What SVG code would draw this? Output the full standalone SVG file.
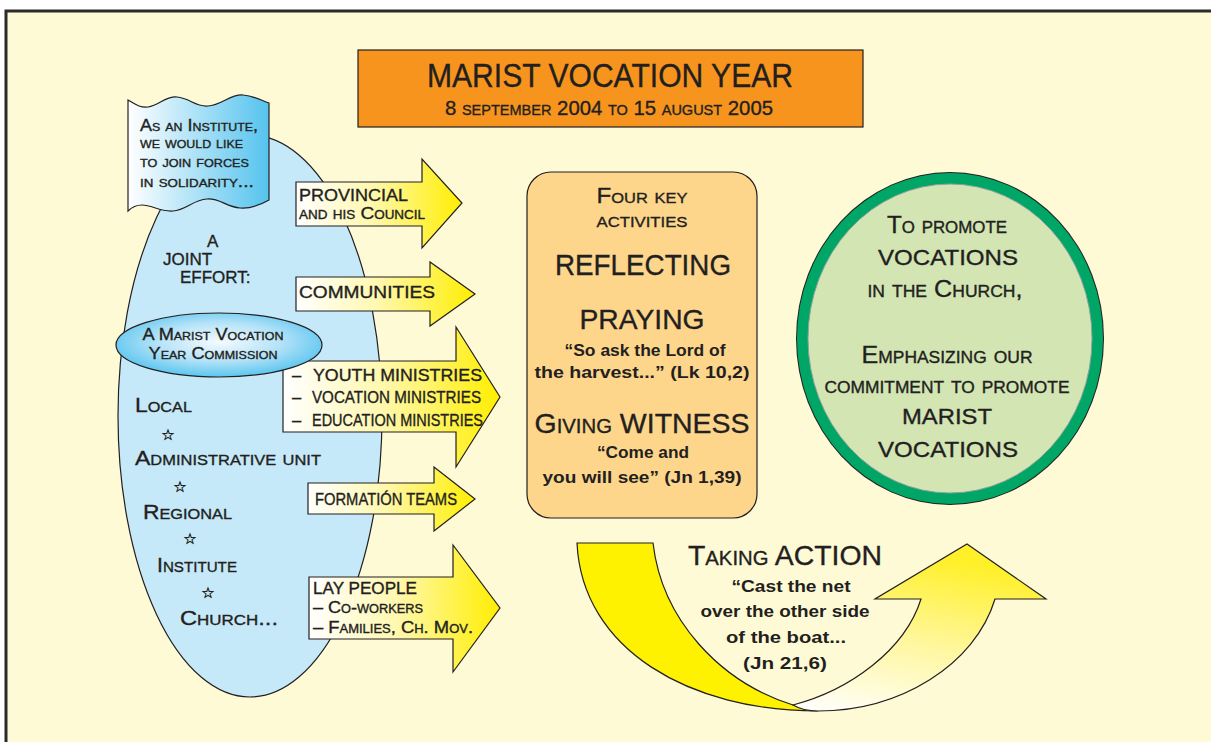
<svg xmlns="http://www.w3.org/2000/svg" width="1211" height="742" viewBox="0 0 1211 742">
<defs>
<linearGradient id="gArrow" x1="0" y1="0" x2="1" y2="0">
<stop offset="0" stop-color="#FFFFFF"/>
<stop offset="0.45" stop-color="#FFF8B0"/>
<stop offset="1" stop-color="#FFEE00"/>
</linearGradient>
<linearGradient id="gFlag" x1="0" y1="0" x2="1" y2="0">
<stop offset="0" stop-color="#FFFFFF"/>
<stop offset="1" stop-color="#55C3EE"/>
</linearGradient>
<radialGradient id="gComm" cx="0.5" cy="0.45" r="0.55">
<stop offset="0" stop-color="#F4FBFF"/>
<stop offset="0.55" stop-color="#B4E2F8"/>
<stop offset="1" stop-color="#5BC6EF"/>
</radialGradient>
<linearGradient id="gCurve" x1="0" y1="1" x2="0.3" y2="0" >
<stop offset="0" stop-color="#FFFFFF"/>
<stop offset="0.5" stop-color="#FFF7A0"/>
<stop offset="1" stop-color="#FFF02A"/>
</linearGradient>
<style>
.t{font-family:"Liberation Sans",Arial,sans-serif;fill:#231F20;stroke:#231F20;stroke-width:0.35;}
.sc{font-variant:small-caps;}
.b{font-weight:bold;stroke:none;}
.ln{stroke:#231F20;stroke-width:1.2;}
.arrow{fill:url(#gArrow);stroke:#231F20;stroke-width:1.2;}
</style>
</defs>
<rect x="0" y="0" width="1211" height="742" fill="#FFFFFF"/>
<rect x="6" y="11" width="1225" height="745" fill="#FFFAD6" stroke="#2B2B2B" stroke-width="3"/>

<g id="title">
<rect x="358" y="50" width="505" height="77" fill="#F7941D" stroke="#231F20" stroke-width="1.2"/>
<text class="t" x="610" y="87" font-size="34" text-anchor="middle" textLength="366" lengthAdjust="spacingAndGlyphs">MARIST VOCATION YEAR</text>
<text class="t sc" x="609" y="115" font-size="21" text-anchor="middle" textLength="328" lengthAdjust="spacingAndGlyphs">8 september 2004 to 15 august 2005</text>
</g>

<g id="joint-effort">
<ellipse cx="250" cy="416" rx="132" ry="281" fill="#C6E9F9" class="ln"/>
<text class="t" font-size="17"><tspan x="207" y="247">A</tspan><tspan x="163" y="265">JOINT</tspan><tspan x="180" y="283">EFFORT:</tspan></text>
</g>

<g id="flag">
<path d="M128,100 C135,104 140,108 148,107 C160,105 165,96 177,97 C190,98 195,107 208,106 C222,105 230,94 243,95 C255,96 262,101 269,103 L269,200 C262,204 252,209 240,208 C226,207 220,198 207,199 C193,200 186,210 173,211 C160,212 152,205 142,205 C136,205 131,208 128,211 Z" fill="url(#gFlag)" class="ln"/>
<text class="t sc" font-size="16"><tspan x="140" y="131" textLength="118" lengthAdjust="spacingAndGlyphs">As an Institute,</tspan><tspan x="140" y="148" textLength="103" lengthAdjust="spacingAndGlyphs">we would like</tspan><tspan x="140" y="167" textLength="109" lengthAdjust="spacingAndGlyphs">to join forces</tspan><tspan x="140" y="187" textLength="114" lengthAdjust="spacingAndGlyphs">in solidarity...</tspan></text>
</g>

<g id="arrow-youth">
<path class="arrow" d="M283,361 L456,361 L456,327 L500,397 L456,467 L456,432 L283,432 Z"/>
<text class="t" font-size="16.5"><tspan x="292" y="381">–</tspan><tspan x="313" y="381" textLength="169" lengthAdjust="spacingAndGlyphs">YOUTH MINISTRIES</tspan><tspan x="292" y="403">–</tspan><tspan x="312" y="403" textLength="169" lengthAdjust="spacingAndGlyphs">VOCATION MINISTRIES</tspan><tspan x="292" y="426">–</tspan><tspan x="312" y="426" textLength="171" lengthAdjust="spacingAndGlyphs">EDUCATION MINISTRIES</tspan></text>
</g>

<g id="commission">
<ellipse cx="219" cy="345" rx="103" ry="32" fill="url(#gComm)" class="ln"/>
<text class="t sc" font-size="16" text-anchor="middle"><tspan x="213" y="340" textLength="141" lengthAdjust="spacingAndGlyphs">A Marist Vocation</tspan><tspan x="213" y="359" textLength="129" lengthAdjust="spacingAndGlyphs">Year Commission</tspan></text>
</g>

<g id="levels">
<text class="t sc" font-size="21"><tspan x="135" y="412" textLength="57" lengthAdjust="spacingAndGlyphs">Local</tspan><tspan x="135" y="465" textLength="186" lengthAdjust="spacingAndGlyphs">Administrative unit</tspan><tspan x="143" y="519" textLength="89" lengthAdjust="spacingAndGlyphs">Regional</tspan><tspan x="157" y="572" textLength="80" lengthAdjust="spacingAndGlyphs">Institute</tspan><tspan x="180" y="625" textLength="98" lengthAdjust="spacingAndGlyphs">Church...</tspan></text>
<text font-family="DejaVu Sans,sans-serif" font-size="15" fill="#231F20" stroke="#231F20" stroke-width="0.4" text-anchor="middle"><tspan x="168" y="440">☆</tspan><tspan x="180" y="492">☆</tspan><tspan x="190" y="544">☆</tspan><tspan x="208" y="598">☆</tspan></text>
</g>

<g id="arrow-provincial">
<path class="arrow" d="M296,182 L422,182 L422,159 L462,203 L422,248 L422,226 L296,226 Z"/>
<text class="t"><tspan x="299" y="201" font-size="17" textLength="109" lengthAdjust="spacingAndGlyphs">PROVINCIAL</tspan><tspan class="sc" x="299" y="219" font-size="17" textLength="126" lengthAdjust="spacingAndGlyphs">and his Council</tspan></text>
</g>

<g id="arrow-communities">
<path class="arrow" d="M296,277 L430,277 L430,262 L475,294 L430,326 L430,311 L296,311 Z"/>
<text class="t" x="299" y="298" font-size="17" textLength="136" lengthAdjust="spacingAndGlyphs">COMMUNITIES</text>
</g>

<g id="arrow-formation">
<path class="arrow" d="M308,483 L434,483 L434,467 L475,499 L434,531 L434,514 L308,514 Z"/>
<text class="t" x="315" y="505" font-size="16.5" textLength="142" lengthAdjust="spacingAndGlyphs">FORMATIÓN TEAMS</text>
</g>

<g id="arrow-lay">
<path class="arrow" d="M309,577 L453,577 L453,545 L500,608 L453,672 L453,639 L309,639 Z"/>
<text class="t" font-size="17"><tspan x="313" y="594" textLength="104" lengthAdjust="spacingAndGlyphs">LAY PEOPLE</tspan><tspan class="sc" x="313" y="613" textLength="110" lengthAdjust="spacingAndGlyphs">– Co-workers</tspan><tspan class="sc" x="313" y="633" textLength="160" lengthAdjust="spacingAndGlyphs">– Families, Ch. Mov.</tspan></text>
</g>

<g id="activities">
<rect x="527" y="172" width="230" height="346" rx="24" fill="#FDD68C" class="ln"/>
<text class="t sc" font-size="22" text-anchor="middle"><tspan x="642" y="203" textLength="91" lengthAdjust="spacingAndGlyphs">Four key</tspan><tspan x="642" y="227" textLength="91" lengthAdjust="spacingAndGlyphs">activities</tspan></text>
<text class="t" font-size="29" text-anchor="middle" x="643" y="275" textLength="176" lengthAdjust="spacingAndGlyphs">REFLECTING</text>
<text class="t" font-size="28" text-anchor="middle" x="642" y="329" textLength="125" lengthAdjust="spacingAndGlyphs">PRAYING</text>
<text class="t b" font-size="17" text-anchor="middle"><tspan x="645" y="356" textLength="161" lengthAdjust="spacingAndGlyphs">“So ask the Lord of</tspan><tspan x="642" y="378" textLength="215" lengthAdjust="spacingAndGlyphs">the harvest...” (Lk 10,2)</tspan></text>
<text class="t sc" font-size="28" text-anchor="middle" x="642" y="433" textLength="215" lengthAdjust="spacingAndGlyphs">Giving WITNESS</text>
<text class="t b" font-size="17" text-anchor="middle"><tspan x="643" y="458" textLength="92" lengthAdjust="spacingAndGlyphs">“Come and</tspan><tspan x="642" y="483" textLength="199" lengthAdjust="spacingAndGlyphs">you will see” (Jn 1,39)</tspan></text>
</g>

<g id="goal">
<ellipse cx="950" cy="338.5" rx="154" ry="166.5" fill="#231F20"/>
<ellipse cx="950" cy="338.5" rx="153" ry="165.5" fill="#00A665"/>
<ellipse cx="950" cy="338.5" rx="142" ry="154.5" fill="#D2E5B3" stroke="#8FA0A0" stroke-width="1"/>
<text class="t sc" font-size="23" text-anchor="middle"><tspan x="947" y="233" textLength="120" lengthAdjust="spacingAndGlyphs">To promote</tspan><tspan x="945" y="297" textLength="155" lengthAdjust="spacingAndGlyphs">in the Church,</tspan><tspan x="947" y="363" textLength="171" lengthAdjust="spacingAndGlyphs">Emphasizing our</tspan><tspan x="947" y="393" textLength="245" lengthAdjust="spacingAndGlyphs">commitment to promote</tspan></text>
<text class="t" font-size="22" text-anchor="middle"><tspan x="948" y="265" textLength="140" lengthAdjust="spacingAndGlyphs">VOCATIONS</tspan><tspan x="947" y="424" textLength="90" lengthAdjust="spacingAndGlyphs">MARIST</tspan><tspan x="948" y="457" textLength="140" lengthAdjust="spacingAndGlyphs">VOCATIONS</tspan></text>
</g>

<g id="connectors">
<path d="M577,543 L653,543 C662,620 720,682 793,705 L818,711 C690,711 582,650 577,543 Z" fill="#FFF200" class="ln"/>
<path d="M793,705 C850,690 905,650 921,599 L875,599 L967,544 L1046,599 L995,599 C975,665 900,711 818,711 C805,711 798,708 793,705 Z" fill="url(#gCurve)" class="ln"/>
</g>

<g id="taking-action">
<text class="t sc" font-size="28" x="785" y="565" text-anchor="middle" textLength="194" lengthAdjust="spacingAndGlyphs">Taking ACTION</text>
<text class="t b" font-size="17" text-anchor="middle"><tspan x="791" y="592" textLength="119" lengthAdjust="spacingAndGlyphs">“Cast the net</tspan><tspan x="785" y="617" textLength="169" lengthAdjust="spacingAndGlyphs">over the other side</tspan><tspan x="786" y="643" textLength="120" lengthAdjust="spacingAndGlyphs">of the boat...</tspan><tspan x="785" y="669" textLength="84" lengthAdjust="spacingAndGlyphs">(Jn 21,6)</tspan></text>
</g>
</svg>
